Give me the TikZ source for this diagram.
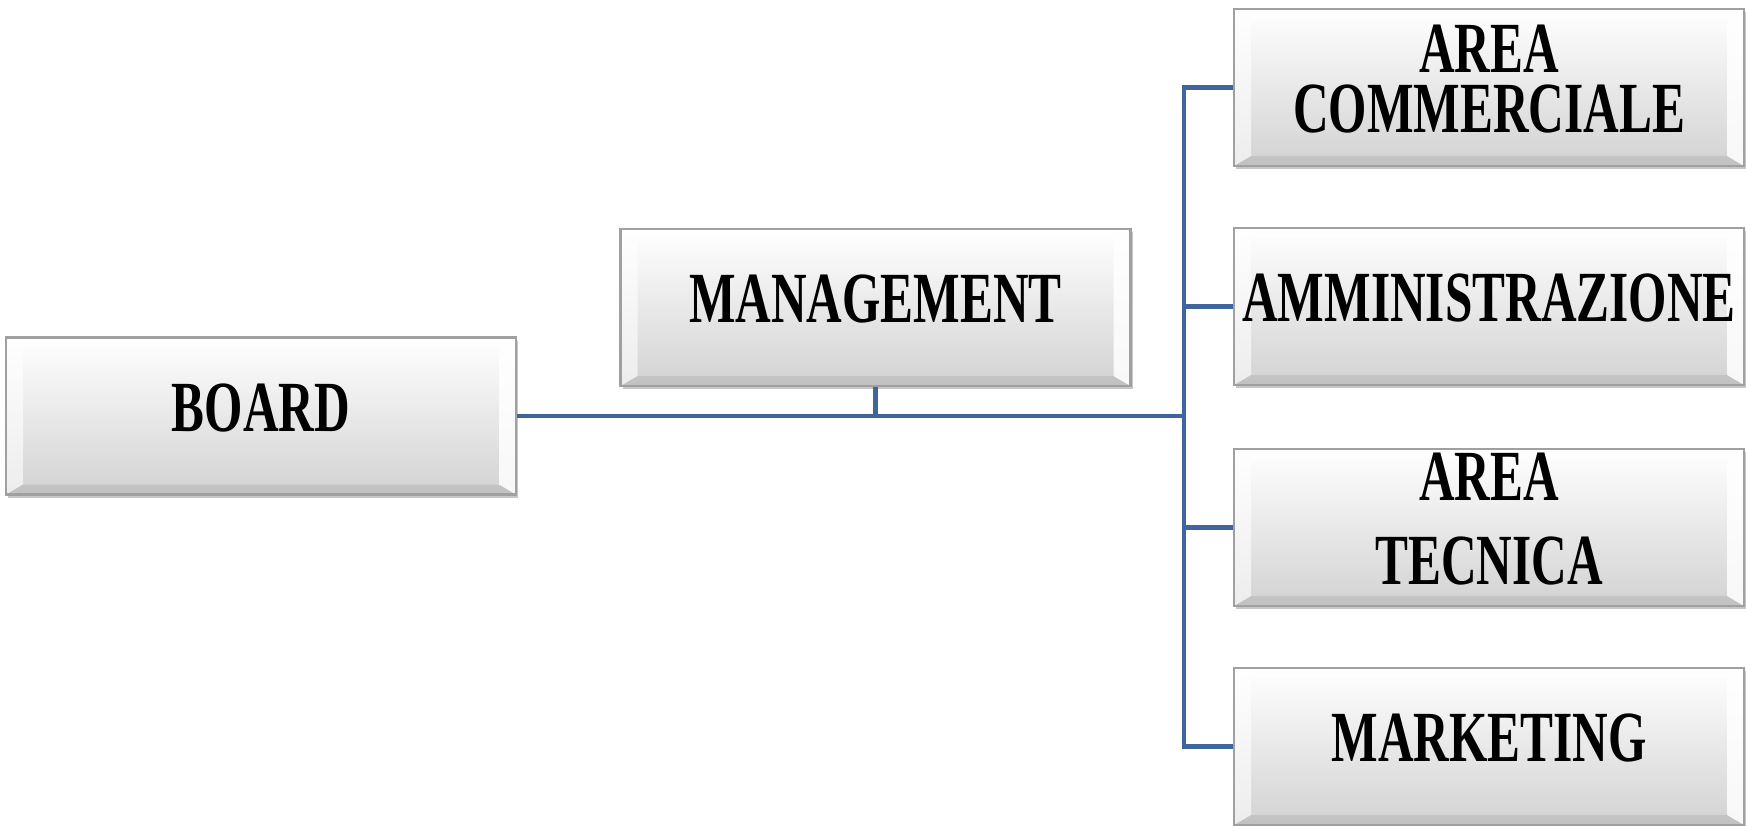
\documentclass[tikz,border=0pt]{standalone}
\usepackage{fontspec}
\setmainfont[FakeStretch=0.685]{Liberation Serif}
\usetikzlibrary{shadows}
\definecolor{linkblue}{RGB}{62,102,156}
\definecolor{boxedge}{RGB}{160,160,160}
\definecolor{boxbot}{RGB}{210,210,210}
\begin{document}
\begin{tikzpicture}[x=0.5pt,y=-0.5pt,
  orgbox/.style={rectangle, draw=boxedge, line width=1.2pt,
    top color=white, bottom color=boxbot,
    minimum width=255pt, minimum height=78.5pt, inner sep=0pt,
    drop shadow={shadow xshift=1.2pt, shadow yshift=-1.5pt, fill=black, opacity=0.22},
    path picture={
      \fill[white,opacity=.75] (path picture bounding box.north west) -- (path picture bounding box.north east)
        -- ([xshift=-8.5pt,yshift=-5pt]path picture bounding box.north east)
        -- ([xshift=8.5pt,yshift=-5pt]path picture bounding box.north west) -- cycle;
      \fill[white,opacity=.6] (path picture bounding box.north west) -- ([xshift=8.5pt,yshift=-5pt]path picture bounding box.north west)
        -- ([xshift=8.5pt,yshift=5pt]path picture bounding box.south west) -- (path picture bounding box.south west) -- cycle;
      \fill[white,opacity=.85] (path picture bounding box.north east) -- ([xshift=-8.5pt,yshift=-5pt]path picture bounding box.north east)
        -- ([xshift=-8.5pt,yshift=5pt]path picture bounding box.south east) -- (path picture bounding box.south east) -- cycle;
      \fill[black,opacity=.08] (path picture bounding box.south west) -- (path picture bounding box.south east)
        -- ([xshift=-8.5pt,yshift=5pt]path picture bounding box.south east)
        -- ([xshift=8.5pt,yshift=5pt]path picture bounding box.south west) -- cycle;
    }},
  boxtext/.style={yshift=4pt, align=center, inner sep=0pt,
    font=\bfseries\fontsize{36}{30}\selectfont},
  boxtextwide/.style={boxtext, font=\bfseries\fontsize{36}{42}\selectfont},
  conn/.style={draw=linkblue, line width=2.3pt}
]
\useasboundingbox (0,0) rectangle (1746,825);

\node[orgbox, label={[boxtext]center:BOARD}] (board) at (261,416) {};
\node[orgbox, label={[boxtext]center:MANAGEMENT}] (mgmt) at (875.5,307.5) {};
\node[orgbox, label={[boxtext]center:AREA\\COMMERCIALE}] (r1) at (1489,87.5) {};
\node[orgbox, label={[boxtext]center:AMMINISTRAZIONE}] (r2) at (1489,306.5) {};
\node[orgbox, label={[boxtextwide]center:AREA\\TECNICA}] (r3) at (1489,527.5) {};
\node[orgbox, label={[boxtext]center:MARKETING}] (r4) at (1489,746.5) {};

\coordinate (j) at (1184,416);
\draw[conn] (board.east) -- (j);
\draw[conn] (mgmt.south) -- (mgmt.south |- j);
\draw[conn] (j) |- (r1.west);
\draw[conn] (j) |- (r2.west);
\draw[conn] (j) |- (r3.west);
\draw[conn] (j) |- (r4.west);
\end{tikzpicture}
\end{document}
